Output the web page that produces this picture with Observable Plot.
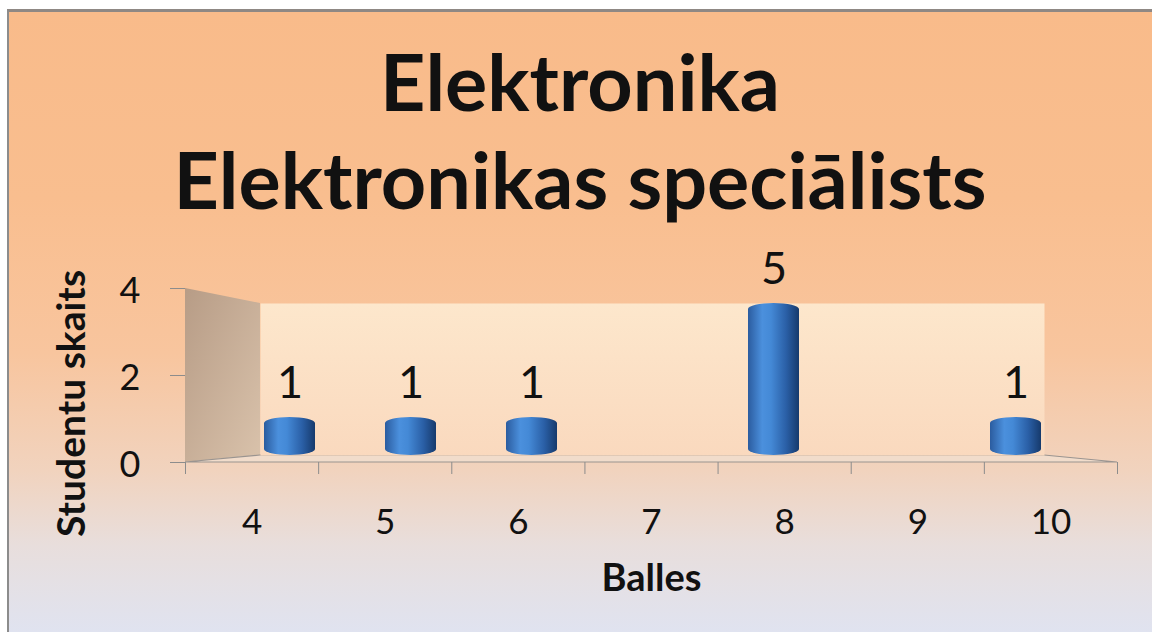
<!DOCTYPE html>
<html>
<head>
<meta charset="utf-8">
<script src="https://cdn.jsdelivr.net/npm/d3@7"></script>
<script src="https://cdn.jsdelivr.net/npm/@observablehq/plot@0.6"></script>
<style>
  html, body { margin: 0; padding: 0; background: #fff; }
  #page { position: relative; width: 1152px; height: 632px; overflow: hidden; font-family: Lato, "Noto Sans", sans-serif; }
  #bg { position: absolute; left: 7px; top: 9px; width: 1145px; height: 623px; box-sizing: border-box;
        border-top: 3px solid #8f8884; border-left: 2px solid #8c8c8c;
        background: linear-gradient(to bottom, #f9bb8a 0%, #f9be8f 30%, #f8c59e 55%, #f1d3be 74%, #e8dedc 86%, #e0e3f0 100%); }
  .title { position: absolute; left: 0; width: 1160px; text-align: center; font-weight: 700; color: #111; line-height: 1.2; white-space: nowrap; }
  .layer { position: absolute; left: 0; top: 0; }
</style>
</head>
<body>
<div id="page">
  <div id="bg"></div>
  <div class="title" id="t1"></div>
  <div class="title" id="t2"></div>
</div>
<script>
// ---- data ----
const titleLines = ["Elektronika", "Elektronikas speciālists"];
const grades = [4, 5, 6, 7, 8, 9, 10];
const students = [1, 1, 1, 0, 5, 0, 1];
const yTicks = [0, 2, 4];
const yLabel = "Studentu skaits";
const xLabel = "Balles";

const data = grades.map((g, i) => ({grade: g, count: students[i]}));
const shown = data.filter(d => d.count > 0);
const yMax = yTicks[yTicks.length - 1];
const boundaries = grades.map(g => g - 0.5).concat([grades[grades.length - 1] + 0.5]);

// ---- title (fit to reference width) ----
const cv = document.createElement("canvas").getContext("2d");
cv.font = "bold 100px Lato";
const w2 = cv.measureText(titleLines[1]).width;
const fs = 100 * 813 / w2;
const t1 = document.getElementById("t1"), t2 = document.getElementById("t2");
t1.textContent = titleLines[0]; t2.textContent = titleLines[1];
[t1, t2].forEach((t, i) => {
  t.style.fontSize = fs + "px";
  const baseline = i === 0 ? 112 : 210;
  t.style.top = (baseline - 0.987 * fs) + "px";
});

const page = document.getElementById("page");
const font = "Lato, 'Noto Sans', sans-serif";

// ---- front layer: axes, floor, side wall ----
const front = Plot.plot({
  width: 1152, height: 632,
  marginLeft: 185, marginRight: 35, marginTop: 288, marginBottom: 170,
  x: {domain: [boundaries[0], boundaries[boundaries.length - 1]], axis: null},
  y: {domain: [0, yMax], axis: null},
  style: {background: "transparent", overflow: "visible", fontFamily: font, color: "#111"},
  marks: [
    Plot.axisY({ticks: yTicks, tickSize: 15, tickFormat: () => "", label: null, stroke: "#8c8c8c"}),
    Plot.text(yTicks, {y: d => d, text: d => String(d), frameAnchor: "left", textAnchor: "end", lineAnchor: "middle", dx: -45, dy: 3, fontSize: 36, fill: "#111"}),
    Plot.axisX({ticks: boundaries, tickSize: 12, tickFormat: () => "", label: null, stroke: "#8c8c8c"}),
    Plot.text(grades, {x: d => d, text: d => String(d), frameAnchor: "bottom", lineAnchor: "middle", dy: 60, fontSize: 35, fill: "#111"}),
    Plot.text([yLabel], {frameAnchor: "left", textAnchor: "middle", lineAnchor: "middle", rotate: -90, dx: -113, dy: 28, fontSize: 39, fontWeight: "bold", fill: "#111"}),
    Plot.text([xLabel], {frameAnchor: "bottom", lineAnchor: "middle", dy: 116, fontSize: 38, fontWeight: "bold", fill: "#111"})
  ]
});
front.classList.add("layer");
page.appendChild(front);

// ---- back layer: back wall, bars, value labels ----
const wallInset = 34, barInset = 35;
const back = Plot.plot({
  width: 1152, height: 632,
  marginLeft: 226, marginRight: 74, marginTop: 303, marginBottom: 177,
  x: {type: "band", domain: grades, padding: 0, axis: null},
  y: {domain: [0, yMax], clamp: true, axis: null},
  style: {background: "transparent", overflow: "visible", fontFamily: font, color: "#111"},
  marks: [
    Plot.frame({fill: "url(#wallGrad)", stroke: "none", insetLeft: wallInset, insetRight: wallInset}),
    Plot.barY(shown, {x: "grade", y: "count", fill: "url(#cyl)", insetLeft: barInset, insetRight: barInset, rx: 26, ry: 6}),
    Plot.text(shown, {x: "grade", y: "count", text: d => String(d.count), lineAnchor: "bottom", dy: -20, fontSize: 45, fill: "#111"})
  ]
});
back.classList.add("layer");
page.appendChild(back);

// gradients
const defs = d3.select(back).insert("defs", ":first-child");
const cyl = defs.append("linearGradient").attr("id", "cyl").attr("x1", 0).attr("x2", 1).attr("y1", 0).attr("y2", 0);
[[0, "#2b5c9f"], [0.28, "#4b90dd"], [0.45, "#4489d6"], [0.75, "#2a5fa6"], [1, "#163a6c"]]
  .forEach(([o, c]) => cyl.append("stop").attr("offset", o).attr("stop-color", c));
const wg = defs.append("linearGradient").attr("id", "wallGrad").attr("x1", 0).attr("x2", 0).attr("y1", 0).attr("y2", 1);
[[0, "#fde7cc"], [1, "#fad9be"]].forEach(([o, c]) => wg.append("stop").attr("offset", o).attr("stop-color", c));

// side wall and floor, from the two layers' scales
const fx = front.scale("x"), fy = front.scale("y");
const by = back.scale("y"), bx = back.scale("x");
const x0 = fx.apply(boundaries[0]), x1 = fx.apply(boundaries[boundaries.length - 1]);
const bL = bx.range[0] + wallInset, bR = bx.range[1] - wallInset;
const fdefs = d3.select(front).insert("defs", ":first-child");
const sg = fdefs.append("linearGradient").attr("id", "sideGrad").attr("x1", 0).attr("x2", 1).attr("y1", 0).attr("y2", 1);
[[0, "#b79c86"], [1, "#d9c2ab"]].forEach(([o, c]) => sg.append("stop").attr("offset", o).attr("stop-color", c));
const deco = d3.select(front).insert("g", "defs + *");
deco.append("polygon")
  .attr("points", [[x0, fy.apply(yMax)], [bL, by.apply(yMax)], [bL, by.apply(0)], [x0, fy.apply(0)]].join(" "))
  .attr("fill", "url(#sideGrad)");
deco.append("polygon")
  .attr("points", [[x0, fy.apply(0)], [bL, by.apply(0)], [bR, by.apply(0)], [x1, fy.apply(0)]].join(" "))
  .attr("fill", "#f1dccb").attr("stroke", "#9a9490").attr("stroke-width", 1.2);
</script>
</body>
</html>
